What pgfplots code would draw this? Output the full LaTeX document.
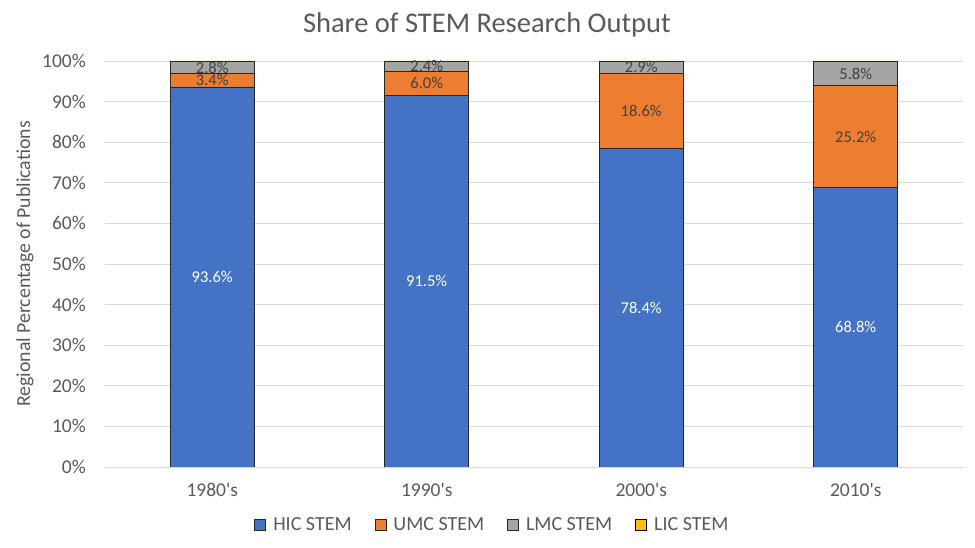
\documentclass[border=0pt]{standalone}
\usepackage{pgfplots}
\pgfplotsset{compat=1.18}
\usepackage{fontspec}
\setmainfont{Carlito}
\newfontfamily\plainfont{Carlito}
\definecolor{hic}{HTML}{4472C4}
\definecolor{umc}{HTML}{ED7D31}
\definecolor{lmc}{HTML}{A5A5A5}
\definecolor{lic}{HTML}{FFC000}
\definecolor{gridc}{HTML}{D9D9D9}
\definecolor{txt}{HTML}{595959}
\definecolor{lbl}{HTML}{404040}
\begin{document}
\begin{tikzpicture}
\useasboundingbox (0,0) rectangle (975pt,548pt);
\begin{axis}[
  at={(105pt,81pt)}, anchor=south west,
  width=858pt, height=406pt, scale only axis,
  ybar stacked, bar width=84pt,
  xmin=-0.5, xmax=3.5, ymin=0, ymax=100,
  xtick={0,1,2,3}, xticklabels={1980's,1990's,2000's,2010's},
  ytick={0,10,...,100},
  yticklabel={\pgfmathprintnumber{\tick}\%},
  /pgf/number format/assume math mode=true,
  ymajorgrids, grid style={color=gridc, line width=0.8pt},
  axis x line*=bottom, axis y line*=left,
  x axis line style={color=gridc, line width=0.8pt, -},
  y axis line style={draw=none},
  major tick length=0pt,
  tick label style={font=\fontsize{19.5}{19.5}\selectfont, text=txt, inner sep=0pt},
  yticklabel style={xshift=-19pt},
  xticklabel style={yshift=-16pt, font=\plainfont\fontsize{19.5}{19.5}\selectfont},
  ylabel={Regional Percentage of Publications},
  every axis y label/.style={at={(axis description cs:-0.0932,0.5)}, rotate=90, anchor=center, font=\fontsize{19.8}{19.8}\selectfont, text=txt},
  title={Share of STEM Research Output},
  every axis title/.style={at={(axis description cs:0.445,1.0887)}, anchor=center, font=\fontsize{28.5}{28.5}\selectfont, text=txt},
  legend columns=4,
  legend style={at={(axis description cs:0.4516,-0.1429)}, anchor=center, draw=none, fill=none,
    font=\fontsize{20}{20}\selectfont, text=txt,
    /tikz/every odd column/.append style={column sep=5pt},
    /tikz/every even column/.append style={column sep=21pt}},
  legend image code/.code={\draw[#1, line width=0.8pt] (0pt,-5.5pt) rectangle (11pt,5.5pt);},
]
\addplot[fill=hic, draw=black!85, line width=0.8pt] coordinates {(0,93.6) (1,91.5) (2,78.4) (3,68.8)};
\addplot[fill=umc, draw=black!85, line width=0.8pt] coordinates {(0,3.4) (1,6.0) (2,18.6) (3,25.2)};
\addplot[fill=lmc, draw=black!85, line width=0.8pt] coordinates {(0,2.8) (1,2.4) (2,2.9) (3,5.8)};
\addplot[fill=lic, draw=none] coordinates {(0,0.2) (1,0.1) (2,0.1) (3,0.2)};
\legend{HIC STEM, UMC STEM, LMC STEM, LIC STEM}
\end{axis}
\begin{axis}[
  at={(105pt,81pt)}, anchor=south west,
  width=858pt, height=406pt, scale only axis,
  xmin=-0.5, xmax=3.5, ymin=0, ymax=100,
  hide axis,
  /pgf/number format/assume math mode=true,
  nodes near coords={\pgfmathprintnumber[fixed,fixed zerofill,precision=1,assume math mode=true]{\pgfplotspointmeta}\%},
  every node near coord/.style={anchor=center, inner sep=0pt, font=\fontsize{16.5}{16.5}\selectfont},
]
\addplot[only marks, mark=none, point meta=\thisrow{val}, nodes near coords style={text=white}]
  table[x=x, y expr=\thisrow{base}+\thisrow{val}/2] {
x base val
0 0 93.6
1 0 91.5
2 0 78.4
3 0 68.8
};
\addplot[only marks, mark=none, point meta=\thisrow{val}, nodes near coords style={text=lbl}]
  table[x=x, y expr=\thisrow{base}+\thisrow{val}/2] {
x base val
0 93.6 3.4
1 91.5 6.0
2 78.4 18.6
3 68.8 25.2
0 97.0 2.8
1 97.5 2.4
2 97.0 2.9
3 94.0 5.8
};
\end{axis}
\end{tikzpicture}
\end{document}
